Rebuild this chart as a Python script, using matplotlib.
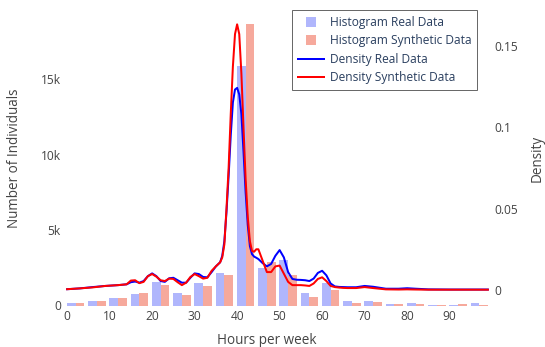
import matplotlib
matplotlib.use("Agg")
import matplotlib.pyplot as plt
from matplotlib.lines import Line2D
from matplotlib.ticker import FixedLocator, FixedFormatter
import numpy as np

# Histogram bins (hours per week), width 5 starting at -0.5
bin_edges = [-0.5 + 5 * k for k in range(21)]
real_counts = [150, 300, 520, 740, 1550, 800, 1470, 2170, 15860, 2500,
               3000, 800, 1500, 270, 320, 100, 190, 50, 40, 150]
synth_counts = [150, 270, 520, 800, 1330, 670, 1310, 2040, 18640, 2900,
                2000, 570, 1050, 150, 200, 80, 80, 40, 80, 50]

# Kernel density estimates
dens_x = [0, 3, 6, 9, 12, 14, 15, 16, 17, 18, 19, 20, 21, 22, 23, 24, 25, 26,
          27, 28, 29, 30, 31, 32, 33, 34, 35, 36, 36.5, 37, 37.5, 38, 38.5,
          39, 39.5, 40, 40.5, 41, 41.5, 42, 42.5, 43, 43.5, 44, 44.5, 45, 46,
          47, 48, 49, 50, 51, 52, 53, 54, 55, 56, 57, 58, 59, 60, 61, 62, 63,
          64, 65, 66, 68, 70, 72, 75, 78, 80, 82, 85, 90, 95, 99]
dens_real = [0.0005, 0.001, 0.0018, 0.0025, 0.003, 0.0035, 0.0048, 0.0052,
             0.0045, 0.0055, 0.0085, 0.0102, 0.0085, 0.0055, 0.005, 0.0072,
             0.0075, 0.006, 0.0045, 0.0045, 0.0075, 0.0102, 0.0098, 0.008,
             0.0078, 0.011, 0.0145, 0.017, 0.021, 0.03, 0.048, 0.07, 0.095,
             0.115, 0.123, 0.124, 0.12, 0.108, 0.085, 0.06, 0.04, 0.027,
             0.022, 0.0205, 0.0198, 0.019, 0.0165, 0.0145, 0.016, 0.021,
             0.0245, 0.02, 0.011, 0.0068, 0.0063, 0.0062, 0.006, 0.0055,
             0.007, 0.0105, 0.0118, 0.009, 0.004, 0.0022, 0.0019, 0.0018,
             0.0017, 0.0017, 0.0025, 0.002, 0.0008, 0.0008, 0.0011, 0.0008,
             0.0004, 0.0003, 0.0003, 0.0003]
dens_synth = [0.0005, 0.001, 0.0016, 0.0025, 0.003, 0.0035, 0.0058, 0.006,
              0.0042, 0.005, 0.0085, 0.0098, 0.0082, 0.006, 0.0055, 0.007,
              0.0068, 0.0048, 0.003, 0.0045, 0.008, 0.0098, 0.0085, 0.007,
              0.0075, 0.0118, 0.0145, 0.017, 0.02, 0.028, 0.05, 0.075, 0.108,
              0.137, 0.157, 0.163, 0.157, 0.133, 0.1, 0.068, 0.045, 0.03,
              0.024, 0.0235, 0.025, 0.025, 0.018, 0.011, 0.011, 0.0145,
              0.015, 0.01, 0.005, 0.003, 0.003, 0.003, 0.0028, 0.0025, 0.004,
              0.0068, 0.0078, 0.0055, 0.0025, 0.0018, 0.0015, 0.0013, 0.0012,
              0.0012, 0.0018, 0.0012, 0.0004, 0.0003, 0.0004, 0.0003, 0.0002,
              0.0002, 0.0002, 0.0002]

x_ticks = [0, 10, 20, 30, 40, 50, 60, 70, 80, 90]
count_ticks = [0, 5000, 10000, 15000]
count_labels = ["0", "5k", "10k", "15k"]
dens_ticks = [0, 0.05, 0.1, 0.15]
dens_labels = ["0", "0.05", "0.1", "0.15"]

plt.rcParams["font.family"] = ["Open Sans", "DejaVu Sans"]
TXT = "#444444"
PX = 0.72  # points per pixel at 100 dpi

W, H = 545, 347
fig = plt.figure(figsize=(W / 100, H / 100), dpi=100)
left, right, top, bottom = 65, 490, 10, 305.5
ax = fig.add_axes([left / W, 1 - bottom / H, (right - left) / W, (bottom - top) / H])

edges = np.array(bin_edges)
centers = (edges[:-1] + edges[1:]) / 2
group = 4.1
bw = group / 2
ax.bar(centers - bw / 2, real_counts, width=bw, color="#636efa", alpha=0.5,
       linewidth=0, label="Histogram Real Data")
ax.bar(centers + bw / 2, synth_counts, width=bw, color="#EF553B", alpha=0.5,
       linewidth=0, label="Histogram Synthetic Data")
ax.set_xlim(-0.5, 99.5)
ax.set_ylim(0, 19570)

ax2 = ax.twinx()
ax2.plot(dens_x, dens_real, color="blue", lw=2 * PX, solid_joinstyle="round")
ax2.plot(dens_x, dens_synth, color="red", lw=2 * PX, solid_joinstyle="round")
ax2.set_ylim(-0.0095, 0.1718)

for a in (ax, ax2):
    for s in a.spines.values():
        s.set_visible(False)
    a.tick_params(length=0, labelsize=12 * PX, colors=TXT)

ax.xaxis.set_major_locator(FixedLocator(x_ticks))
ax.set_xticklabels([str(t) for t in x_ticks])
ax.yaxis.set_major_locator(FixedLocator(count_ticks))
ax.yaxis.set_major_formatter(FixedFormatter(count_labels))
ax2.yaxis.set_major_locator(FixedLocator(dens_ticks))
ax2.yaxis.set_major_formatter(FixedFormatter(dens_labels))
ax.tick_params(axis="x", pad=3)
ax.tick_params(axis="y", pad=3)
ax2.tick_params(axis="y", pad=3)

fig.text(267 / W, 1 - 340 / H, "Hours per week", ha="center", va="center",
         fontsize=13.5 * PX, color=TXT)
fig.text(15 / W, 1 - 158 / H, "Number of Individuals", ha="center",
         va="center", rotation=90, fontsize=13.5 * PX, color=TXT)
fig.text(537 / W, 1 - 158 / H, "Density", ha="center", va="center",
         rotation=90, fontsize=13.5 * PX, color=TXT)

handles = [
    Line2D([], [], ls="none", marker="s", markersize=10 * PX,
           markerfacecolor="#636efa", markeredgewidth=0, alpha=0.5),
    Line2D([], [], ls="none", marker="s", markersize=10 * PX,
           markerfacecolor="#EF553B", markeredgewidth=0, alpha=0.5),
    Line2D([], [], color="blue", lw=2 * PX),
    Line2D([], [], color="red", lw=2 * PX),
]
labels = ["Histogram Real Data", "Histogram Synthetic Data",
          "Density Real Data", "Density Synthetic Data"]
leg = fig.legend(handles, labels, loc="upper left",
                 bbox_to_anchor=(292 / W, 1 - 10 / H), borderaxespad=0,
                 fontsize=12 * PX, frameon=True, fancybox=False,
                 handlelength=2.2, handletextpad=0.45, labelspacing=0.45,
                 borderpad=0.5, labelcolor="#2a3f5f")
leg.get_frame().set_edgecolor("#444444")
leg.get_frame().set_linewidth(1 * PX)
leg.get_frame().set_facecolor("white")

fig.savefig("out.png", dpi=100, facecolor="white")
